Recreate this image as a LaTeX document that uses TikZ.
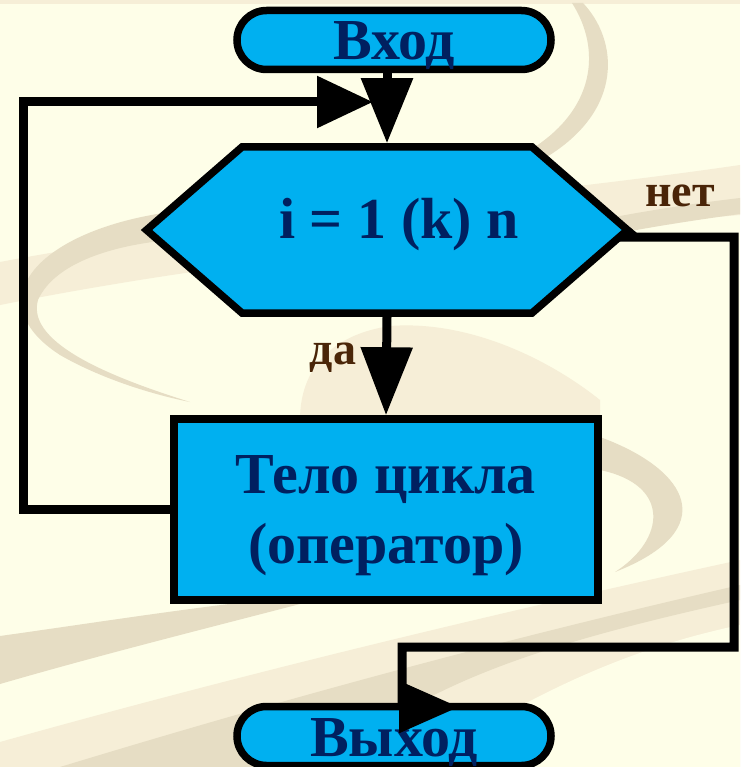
\documentclass[tikz,border=0pt]{standalone}
\usepackage{fontspec}
\setmainfont{Liberation Serif}
\usetikzlibrary{arrows.meta,shapes.symbols}

\definecolor{bgcream}{HTML}{FEFEE8}
\definecolor{swirllight}{HTML}{F6EED7}
\definecolor{swirldark}{HTML}{E6DDC4}
\definecolor{boxblue}{HTML}{00B0F0}
\definecolor{textnavy}{HTML}{002060}
\definecolor{labelbrown}{HTML}{4A2508}

% сдвиг текста без изменения его размеров
\newcommand\sinktext[2]{\raisebox{-#1}[\height][\depth]{#2}}

\tikzset{
  block/.style={draw=black, line width=7.5pt, fill=boxblue, text=textnavy,
    font=\bfseries\fontsize{58}{70}\selectfont, align=center, inner sep=0pt},
  term/.style={block, rounded corners=29.5pt, minimum width=314pt, minimum height=59pt},
  loophead/.style={block, signal, signal to=west and east, signal pointer angle=82,
    minimum width=481pt, minimum height=166pt},
  bodybox/.style={block, minimum width=424pt, minimum height=181pt},
  conn/.style={line width=9pt},
  bigtip/.style={-{Triangle[length=#1, width=50pt]}},
  answer/.style={text=labelbrown, font=\bfseries\fontsize{46}{50}\selectfont}
}

\begin{document}
\begin{tikzpicture}[x=1pt, y=-1pt]
  % фон
  \fill[bgcream] (0,0) rectangle (740,767);
  \useasboundingbox (0,0) rectangle (740,767);
  \fill[swirllight] (0,0) rectangle (740,4);
  % завитки фона
  \fill[swirllight] (0,262) .. controls (250,215) and (500,200) .. (740,165)
    -- (740,215) .. controls (500,235) and (250,255) .. (0,305) -- cycle;
  \fill[swirldark] (560,228) .. controls (620,215) and (680,205) .. (740,198)
    -- (740,214) .. controls (680,222) and (620,232) .. (560,245) -- cycle;
  \fill[swirldark] (583,3) .. controls (618,40) and (625,110) .. (545,158)
    -- (530,150) .. controls (595,110) and (602,50) .. (572,3) -- cycle;
  \fill[swirldark] (170,212) .. controls (40,230) and (-25,300) .. (60,355)
    .. controls (100,378) and (150,394) .. (190,402)
    .. controls (120,380) and (25,345) .. (38,300)
    .. controls (55,262) and (115,245) .. (170,240) -- cycle;
  \fill[swirllight] (300,420) .. controls (300,370) and (330,335) .. (390,326)
    .. controls (470,320) and (550,360) .. (600,400) -- (600,420) -- cycle;
  \fill[swirldark] (600,437) .. controls (690,470) and (722,530) .. (615,572)
    .. controls (665,540) and (672,485) .. (600,470) -- cycle;
  \fill[swirldark] (0,636) .. controls (100,622) and (200,606) .. (300,596)
    -- (300,604) .. controls (200,630) and (100,655) .. (0,684) -- cycle;
  \fill[swirllight] (0,742) .. controls (250,672) and (500,612) .. (740,560)
    -- (740,767) -- (0,767) -- cycle;
  \fill[swirldark] (60,767) .. controls (280,700) and (500,640) .. (740,585)
    -- (740,600) .. controls (560,640) and (420,680) .. (330,767) -- cycle;
  \fill[bgcream] (420,767) .. controls (520,700) and (620,650) .. (740,625)
    -- (740,767) -- cycle;

  % блоки
  \node[term] (entry) at (394,40) {\sinktext{6pt}{Вход}};
  \node[loophead] (head) at (387,230) {\hspace*{24pt}\raisebox{5pt}[\height][\depth]{i = 1 (k) n}};
  \node[bodybox] (body) at (386,509.5) {\sinktext{6pt}{Тело цикла}\\[0pt]\sinktext{6pt}{(оператор)}};
  \node[term] (exit) at (394,736) {\sinktext{7pt}{Выход}};

  % надписи
  \node[answer] (no) at (680,196) {нет};
  \node[answer] (yes) at (333,358) {да};

  % связи
  \coordinate (loopend) at (373,102);
  \coordinate (exitend) at (459,707);
  \draw[conn, bigtip=65pt] (head.north |- entry.south) -- (head.north);
  \draw[conn, bigtip=68pt] (head.south) -- (body.north);
  \draw[conn, bigtip=56pt] (body.west) -- (23,509.5) |- (loopend);
  \draw[conn, bigtip=60pt] (head.east) -- (628,237) -- (734,237) |- (402,647)
    -- (402,707) -- (exitend);
\end{tikzpicture}
\end{document}
